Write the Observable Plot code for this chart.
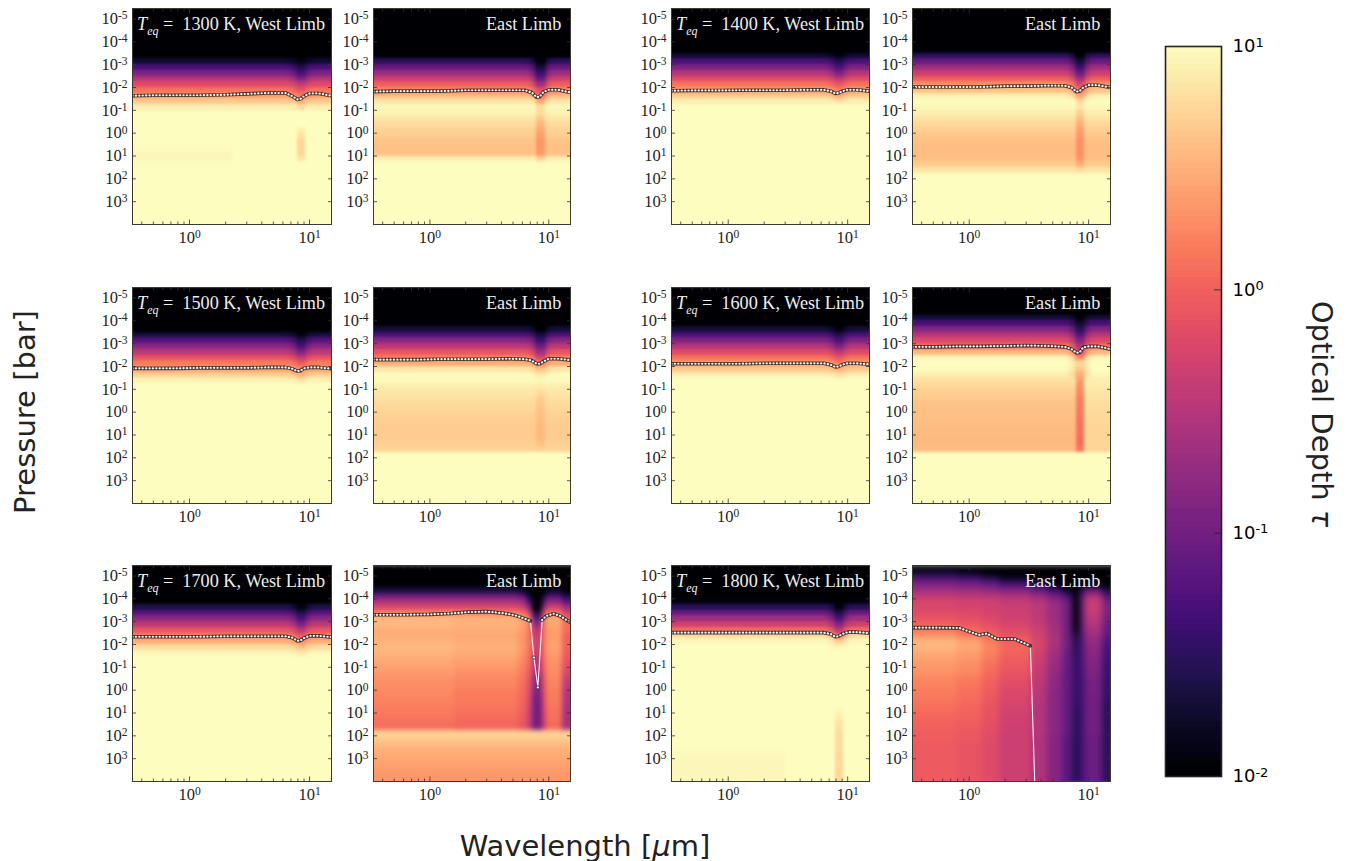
<!DOCTYPE html>
<html><head><meta charset="utf-8">
<script src="https://cdn.jsdelivr.net/npm/d3@7"></script>
<script src="https://cdn.jsdelivr.net/npm/@observablehq/plot@0.6"></script>
<style>
html,body{margin:0;padding:0;background:#fff;width:1352px;height:861px;overflow:hidden}
#root{position:relative;width:1352px;height:861px}
.p{position:absolute}
.lab{position:absolute;white-space:nowrap;font-family:"Liberation Serif",serif;color:#eee;font-size:18.2px;line-height:18px}
.lab sub{font-size:12px;font-style:italic;line-height:0}
.big{position:absolute;white-space:nowrap;font-family:"DejaVu Sans",sans-serif;font-size:29px;color:#222}
</style></head><body><div id="root"></div>
<script>
const B = .005, C = 10; // below / above the colour range
const pressureEdges = [-5.5,-5.25,-5,-4.75,-4.5,-4.25,-4,-3.75,-3.5,-3.25,-3,-2.75,-2.5,-2.25,-2,-1.75,-1.5,-1.25,-1,-.75,-.5,-.25,0,.25,.5,.75,1,1.25,1.5,1.75,2,2.25,2.5,2.75,3,3.25,3.5,3.75,4.25];
const pressureTicks = [1e-5,1e-4,1e-3,1e-2,1e-1,1,10,100,1000];
const waveTicks = [1,10];
const waveMinor = [.4,.5,.6,.7,.8,.9,2,3,4,5,6,7,8,9];
const colorTicks = [.01,.1,1,10];

const w1300Base=[B,B,B,B,B,B,B,B,.008,.018, .05,.12,.3,.65,1.3,2.3,4.5,8,C,C, C,C,C,C,C,C,C,C,C,C, C,C,C,C,C,C,C,C];
const w1300Faint=[B,B,B,B,B,B,B,B,.008,.018, .05,.12,.3,.65,1.3,2.3,4.5,8,C,C, C,C,C,C,9.5,9.2,9.2,9.5,C,C, C,C,C,C,C,C,C,C];
const w1300Band=[B,B,B,B,B,B,B,B,B,.012, .025,.05,.12,.35,.8,1.6,3.2,6,C,C, C,8,6.5,5.5,5.5,5.5,7,C,C,C, C,C,C,C,C,C,C,C];
const e1300Base=[B,B,B,B,B,B,B,B,.01,.03, .08,.2,.45,.95,1.8,3.5,7,9,8.5,7, 6,5.2,4.7,4.3,4.1,4.2,8,C,C,C, C,C,C,C,C,C,C,C];
const e1300Band=[B,B,B,B,B,B,B,B,B,.01, .02,.04,.08,.2,.7,1.3,3,6,6,4.5, 3.5,2.8,2.4,2.2,2.2,2.3,5,C,C,C, C,C,C,C,C,C,C,C];

const w1400Base=[B,B,B,B,B,B,B,.008,.018,.05, .12,.3,.65,1.3,2.3,4.5,8,C,C,C, C,C,C,C,C,C,C,C,C,C, C,C,C,C,C,C,C,C];
const w1400Band=[B,B,B,B,B,B,B,B,.012,.025, .05,.12,.35,.8,1.6,3.2,7,C,C,C, C,C,C,C,C,C,C,C,C,C, C,C,C,C,C,C,C,C];
const e1400Base=[B,B,B,B,B,B,B,.01,.03,.08, .2,.45,.95,1.9,4,8,9.5,9,8,6.8, 5.8,5,4.4,4,3.8,3.8,4,4.6,7,C, C,C,C,C,C,C,C,C];
const e1400Band=[B,B,B,B,B,B,B,B,.01,.02, .04,.09,.22,.6,1.3,3,6,7,5,3.8, 3,2.5,2.2,2,2,2,2.2,3,6,C, C,C,C,C,C,C,C,C];

const w1500Base=[B,B,B,B,B,B,B,.008,.02,.06, .15,.35,.75,1.5,2.6,5,8.5,C,C,C, C,C,C,C,C,C,C,C,C,C, C,C,C,C,C,C,C,C];
const w1500Band=[B,B,B,B,B,B,B,B,.012,.025, .05,.13,.35,.9,1.8,3.5,7,C,C,C, C,C,C,C,C,C,C,C,C,C, C,C,C,C,C,C,C,C];
const e1500Base=[B,B,B,B,B,B,.008,.02,.05,.14, .35,.8,1.6,3,7,9.5,9.5,8,7.2,6.6, 6,5.6,5.3,5,4.8,4.7,4.7,5,5.5,C, C,C,C,C,C,C,C,C];
const e1500Band=[B,B,B,B,B,B,B,.01,.02,.04, .09,.22,.55,1.4,4,8,9,7.5,6,5, 4.5,4.2,4,3.8,3.6,3.6,3.6,4,5,C, C,C,C,C,C,C,C,C];

const w1600Base=[B,B,B,B,B,B,.008,.02,.05,.12, .3,.65,1.3,2.3,4.5,8,C,C,C,C, C,C,C,C,C,C,C,C,C,C, C,C,C,C,C,C,C,C];
const w1600Band=[B,B,B,B,B,B,B,.012,.025,.05, .12,.35,.8,1.6,3.2,7,C,C,C,C, C,C,C,C,C,C,C,C,C,C, C,C,C,C,C,C,C,C];
const e1600Base=[B,B,B,B,.01,.02,.05,.14,.3,.6, 1.2,3.5,9,C,9.5,8,6.5,5.6,5,4.6, 4.3,4.1,4,3.9,3.8,3.7,3.6,3.6,3.8,C, C,C,C,C,C,C,C,C];
const e1600Band=[B,B,B,B,B,.01,.018,.03,.06,.13, .28,.65,1.8,6,4.5,3,2.4,2,1.8,1.6, 1.5,1.4,1.4,1.3,1.3,1.3,1.2,1.2,1.4,C, C,C,C,C,C,C,C,C];
const e1600Right=[B,B,B,B,.01,.02,.05,.14,.3,.6, 1.2,3.5,9,C,C,9,8,7.5,7,6.5, 6.2,6,5.8,5.6,5.5,5.5,5.4,5.4,5.5,C, C,C,C,C,C,C,C,C];

const w1700Base=[B,B,B,B,B,B,.01,.025,.06,.15, .35,.8,1.6,3,6,9,C,C,C,C, C,C,C,C,C,C,C,C,C,C, C,C,C,C,C,C,C,C];
const w1700Band=[B,B,B,B,B,B,B,.012,.025,.05, .12,.35,.85,1.9,4,8,C,C,C,C, C,C,C,C,C,C,C,C,C,C, C,C,C,C,C,C,C,C];
const e1700A=[B,B,B,B,.02,.08,.25,.6,1.6,3.5, 3.6,3.2,3,3.3,3.6,3.4,3,2.7,2.4,2.2, 2,1.9,1.8,1.7,1.6,1.5,1.4,1.3,1.2,5.5, 4.8,3.8,3.2,2.9,2.7,2.5,2.3,2.2];
const e1700B=[B,B,B,B,.02,.08,.25,.6,1.5,3.2, 3.3,3,2.8,3,3.2,3,2.7,2.4,2.1,1.9, 1.75,1.65,1.55,1.45,1.4,1.3,1.25,1.15,1.05,5.5, 4.8,3.8,3.2,2.9,2.7,2.5,2.3,2.2];
const e1700C=[B,B,B,B,.015,.06,.2,.5,1.2,2.5, 2.6,2.4,2.2,2.2,2.3,2.1,1.9,1.7,1.55,1.4, 1.3,1.2,1.15,1.1,1.05,1,.95,.9,.85,5.5, 4.8,3.8,3.2,2.9,2.7,2.5,2.3,2.2];
const e1700D=[B,B,B,B,B,.015,.05,.15,.6,1.3, 1.6,1.5,1.4,1.4,1.4,1.3,1.2,1.1,1,.9, .8,.75,.7,.65,.6,.55,.5,.5,.5,5.5, 4.8,3.8,3.2,2.9,2.7,2.5,2.3,2.2];
const e1700Band=[B,B,B,B,B,B,B,.008,.02,.06, .15,.3,.4,.5,.5,.45,.35,.3,.25,.2, .16,.14,.12,.11,.1,.1,.1,.1,.1,5.5, 4.8,3.8,3.2,2.9,2.7,2.5,2.3,2.2];
const e1700E=[B,B,B,B,.015,.05,.15,.5,1.3,2.8, 2.8,2.5,2.4,2.5,2.6,2.4,2.2,2,1.9,1.8, 1.7,1.6,1.5,1.5,1.4,1.3,1.3,1.2,1.1,5.5, 4.8,3.8,3.2,2.9,2.7,2.5,2.3,2.2];
const e1700F=[B,B,B,B,B,.02,.06,.2,.5,1, 1.2,1.2,1,1,1,.9,.8,.7,.6,.5, .4,.35,.3,.3,.28,.25,.25,.25,.25,5.5, 4.8,3.8,3.2,2.9,2.7,2.5,2.3,2.2];

const w1800Base=[B,B,B,B,B,B,.012,.03,.08,.2, .45,1.2,6,9,C,C,C,C,C,C, C,C,C,C,C,C,C,C,C,C, C,9.8,9.6,9.4,9.2,9,9,9];
const w1800Right=[B,B,B,B,B,B,.012,.03,.08,.2, .45,1.2,6,9,C,C,C,C,C,C, C,C,C,C,C,C,C,C,C,C, C,C,C,C,C,C,C,C];
const w1800Band=[B,B,B,B,B,B,B,.012,.025,.05, .13,.38,1.2,5,9,C,C,C,C,C, C,C,C,C,C,9,8,7,6.5,6, 6,6,6,5.8,5.8,5.6,5.5,5.5];

const e1800A=[B,.02,.06,.12,.22,.35,.55,.6,.65,.8, 1,1.5,2,3.5,3.5,3,2.6,2.3,2.1,1.9, 1.7,1.6,1.5,1.4,1.3,1.2,1.1,1.05,1,.95, .95,.9,.9,.9,.9,.9,.9,.9];
const e1800B=[B,.015,.05,.1,.2,.32,.5,.55,.6,.7, .85,1.1,1.5,2.6,2.8,2.5,2.2,2,1.8,1.6, 1.45,1.35,1.25,1.2,1.1,1.05,1,.95,.9,.85, .85,.8,.8,.8,.8,.8,.8,.8];
const e1800C=[B,.01,.03,.08,.17,.3,.45,.5,.55,.6, .7,.85,1.1,1.5,1.7,1.6,1.5,1.3,1.2,1.1, 1,.95,.9,.85,.8,.78,.75,.72,.7,.68, .65,.65,.65,.65,.65,.65,.65,.65];
const e1800D=[B,B,.015,.05,.13,.25,.4,.45,.45,.5, .55,.65,.8,1,1.1,1.05,.95,.9,.8,.75, .7,.65,.6,.58,.55,.52,.5,.5,.48,.46, .45,.45,.45,.45,.45,.45,.45,.45];
const e1800E=[B,B,.01,.025,.08,.18,.3,.35,.35,.35, .4,.45,.5,.55,.55,.5,.45,.42,.4,.38, .35,.34,.33,.32,.3,.3,.3,.3,.3,.3, .28,.28,.28,.28,.28,.28,.28,.28];
const e1800F=[B,B,B,.012,.04,.1,.17,.2,.2,.2, .22,.24,.26,.26,.25,.22,.2,.19,.18,.17, .16,.16,.15,.15,.15,.15,.15,.15,.15,.15, .14,.14,.14,.14,.14,.14,.14,.14];
const e1800G=[B,B,B,B,.015,.05,.09,.1,.1,.1, .1,.1,.1,.1,.1,.09,.09,.085,.08,.08, .08,.08,.08,.08,.08,.08,.08,.08,.08,.08, .07,.07,.07,.07,.07,.07,.07,.07];
const e1800H=[B,B,B,B,.008,.012,.012,.012,.012,.012, .012,.015,.02,.025,.03,.03,.032,.035,.035,.035, .035,.035,.035,.035,.035,.03,.03,.03,.03,.03, .028,.028,.028,.028,.028,.028,.028,.028];
const e1800I=[B,B,B,.008,.03,.08,.1,.1,.1,.1, .09,.08,.07,.07,.06,.06,.06,.055,.055,.055, .05,.05,.05,.05,.05,.05,.05,.05,.05,.05, .05,.05,.05,.05,.05,.05,.05,.05];
const e1800J=[B,B,B,.008,.08,.25,.4,.45,.4,.35, .3,.25,.2,.18,.16,.15,.14,.13,.12,.12, .11,.11,.11,.1,.1,.1,.1,.1,.1,.1, .09,.09,.09,.09,.09,.09,.09,.09];
const e1800K=[B,B,B,B,.02,.06,.1,.12,.12,.1, .09,.08,.07,.06,.05,.05,.045,.04,.04,.04, .035,.035,.035,.035,.03,.03,.03,.03,.03,.03, .03,.03,.03,.03,.03,.03,.03,.03];

const contourWave=[.335,.5,.8,1.2,2,3,4.5,6.3,7.2,7.9,8.4,9,10,12,15.24];
const c1300w=[-1.64,-1.66,-1.66,-1.66,-1.68,-1.72,-1.76,-1.76,-1.62,-1.48,-1.5,-1.62,-1.74,-1.74,-1.64];
const c1300e=[-1.82,-1.84,-1.84,-1.84,-1.88,-1.88,-1.88,-1.88,-1.78,-1.58,-1.6,-1.8,-1.9,-1.9,-1.78];
const c1400w=[-1.86,-1.87,-1.87,-1.88,-1.88,-1.88,-1.9,-1.9,-1.84,-1.74,-1.76,-1.84,-1.9,-1.9,-1.84];
const c1400e=[-2.02,-2.02,-2.02,-2.02,-2.06,-2.06,-2.08,-2.08,-2,-1.82,-1.84,-2,-2.1,-2.1,-2];
const c1500w=[-1.92,-1.92,-1.92,-1.94,-1.94,-1.94,-1.96,-1.96,-1.9,-1.8,-1.82,-1.92,-1.96,-1.96,-1.9];
const c1500e=[-2.3,-2.3,-2.3,-2.32,-2.32,-2.32,-2.34,-2.32,-2.26,-2.12,-2.12,-2.22,-2.34,-2.34,-2.28];
const c1600w=[-2.12,-2.12,-2.12,-2.12,-2.14,-2.14,-2.14,-2.14,-2.08,-1.98,-2,-2.08,-2.14,-2.14,-2.1];
const c1600e=[-2.86,-2.86,-2.88,-2.88,-2.9,-2.92,-2.9,-2.86,-2.76,-2.6,-2.62,-2.84,-2.88,-2.88,-2.76];
const c1700w=[-2.34,-2.34,-2.34,-2.34,-2.36,-2.36,-2.36,-2.36,-2.3,-2.16,-2.18,-2.28,-2.38,-2.38,-2.32];
const c1800w=[-2.52,-2.52,-2.52,-2.52,-2.52,-2.52,-2.52,-2.52,-2.46,-2.34,-2.36,-2.46,-2.54,-2.54,-2.5];
const c1700eWave=[.335,.6,1,1.5,2.1,3,4,5,5.8,7,7.5,8.1,8.8,9.5,11,12.5,15.24];
const c1700e=[-3.3,-3.3,-3.32,-3.36,-3.42,-3.44,-3.38,-3.3,-3.2,-3.03,-1.43,-.12,-3.07,-3.25,-3.35,-3.25,-2.96];
const c1700eGroup=[0,0,0,0,0,0,0,0,0,0,null,null,1,1,1,1,1];
const c1800eWave=[.335,.82,1.2,1.41,1.7,2.4,3.25,3.55];
const c1800e=[-2.74,-2.73,-2.42,-2.48,-2.24,-2.24,-1.94,4.3];
const c1800eGroup=[0,0,0,0,0,0,0,null];

const xDomain=[.335,15.24], yDomain=[1e4,10**-5.46];
const colsX=[132,373,671,912], rowsY=[8,287,565];
const band3=(a,b,c)=>[[.3,7.9,a],[7.9,9.3,b],[9.3,17,c]];
const panels=[
 {t:1300,east:0,col:0,row:0,cols:[[.3,2.3,w1300Faint],[2.3,7.9,w1300Base],[7.9,9.3,w1300Band],[9.3,17,w1300Base]],wave:contourWave,c:c1300w},
 {t:1300,east:1,col:1,row:0,cols:band3(e1300Base,e1300Band,e1300Base),wave:contourWave,c:c1300e},
 {t:1400,east:0,col:2,row:0,cols:band3(w1400Base,w1400Band,w1400Base),wave:contourWave,c:c1400w},
 {t:1400,east:1,col:3,row:0,cols:band3(e1400Base,e1400Band,e1400Base),wave:contourWave,c:c1400e},
 {t:1500,east:0,col:0,row:1,cols:band3(w1500Base,w1500Band,w1500Base),wave:contourWave,c:c1500w},
 {t:1500,east:1,col:1,row:1,cols:band3(e1500Base,e1500Band,e1500Base),wave:contourWave,c:c1500e},
 {t:1600,east:0,col:2,row:1,cols:band3(w1600Base,w1600Band,w1600Base),wave:contourWave,c:c1600w},
 {t:1600,east:1,col:3,row:1,cols:band3(e1600Base,e1600Band,e1600Right),wave:contourWave,c:c1600e},
 {t:1700,east:0,col:0,row:2,cols:band3(w1700Base,w1700Band,w1700Base),wave:contourWave,c:c1700w},
 {t:1700,east:1,col:1,row:2,blur:2.4,cols:[[.3,1.6,e1700A],[1.6,5.6,e1700B],[5.6,6.5,e1700C],[6.5,7.3,e1700D],[7.3,8.8,e1700Band],[8.8,9.6,e1700D],[9.6,13,e1700E],[13,17,e1700F]],wave:c1700eWave,c:c1700e,g:c1700eGroup},
 {t:1800,east:0,col:2,row:2,cols:[[.3,3,w1800Base],[3,7.9,w1800Right],[7.9,9.3,w1800Band],[9.3,17,w1800Right]],wave:contourWave,c:c1800w},
 {t:1800,east:1,col:3,row:2,blur:3,cols:[[.3,.8,e1800A],[.8,1.3,e1800B],[1.3,1.8,e1800C],[1.8,3.3,e1800D],[3.3,4.5,e1800E],[4.5,6,e1800F],[6,7.3,e1800G],[7.3,8.5,e1800H],[8.5,9.5,e1800I],[9.5,13,e1800J],[13,17,e1800K]],wave:c1800eWave,c:c1800e,g:c1800eGroup}
];
const colorOpt={type:"log",scheme:"magma",domain:[.01,10],clamp:true};
const expFmt=d=>"10^"+Math.round(Math.log10(d));
function superscripts(svg,size){
  d3.select(svg).selectAll("text").each(function(){
    const s=this.textContent; const m=s.match(/^10\^(-?\d+)$/); if(!m) return;
    const sel=d3.select(this); const tsp=sel.select("tspan");
    (tsp.empty()?sel:tsp).text("10").append("tspan").attr("dy","-.42em").attr("font-size",size).text(m[1]);
  });
}
const root=document.getElementById("root");
const M={l:45,r:6,t:4,b:26}, W=[199,197,198,198], H=216;
for(const p of panels){
  const cells=(cols)=>cols.flatMap(([x1,x2,arr])=>arr.map((tau,i)=>({x1,x2,y1:10**pressureEdges[i],y2:10**pressureEdges[i+1],tau})));
  const rows=cells(p.cols);
  const bandCol=p.cols.find(c=>c[0]===7.9);
  const topBand=bandCol?cells([bandCol]).filter(d=>d.y2<=10**-1.5):[];
  const shoulder=topBand.map(d=>({...d,x1:7.1,x2:10.2}));
  const pts=p.wave.map((w,i)=>({w,y:10**p.c[i],g:p.g?p.g[i]:0}));
  const tickStyle={stroke:"#333",strokeWidth:.8};
  const blur=`blur(${p.blur||1.7}px)`;
  const svg=Plot.plot({
    width:W[p.col]+M.l+M.r,height:H+M.t+M.b,marginLeft:M.l,marginRight:M.r,marginTop:M.t,marginBottom:M.b,
    style:{background:"transparent",overflow:"visible",fontFamily:"'Liberation Serif',serif"},
    x:{type:"log",domain:xDomain,axis:null},y:{type:"log",domain:yDomain,axis:null},color:colorOpt,
    marks:[
      Plot.rect(rows,{x1:"x1",x2:"x2",y1:"y1",y2:"y2",fill:"tau",clip:true,imageFilter:blur,shapeRendering:"crispEdges"}),
      Plot.rect(shoulder,{x1:"x1",x2:"x2",y1:"y1",y2:"y2",fill:"tau",clip:true,fillOpacity:.4,imageFilter:"blur(2.5px)",shapeRendering:"crispEdges"}),
      Plot.rect(topBand,{x1:"x1",x2:"x2",y1:"y1",y2:"y2",fill:"tau",clip:true,fillOpacity:.6,imageFilter:"blur(2px)",shapeRendering:"crispEdges"}),
      Plot.line(pts,{x:"w",y:"y",stroke:"#fff",strokeWidth:1.1,clip:true,strokeOpacity:.9,imageFilter:"blur(.4px)"}),
      Plot.line(pts.filter(d=>d.g!=null),{x:"w",y:"y",z:"g",stroke:"#111",strokeWidth:3.6,clip:true,strokeOpacity:.75,imageFilter:"blur(.4px)"}),
      Plot.line(pts.filter(d=>d.g!=null),{x:"w",y:"y",z:"g",stroke:"#fff",strokeWidth:2.2,strokeOpacity:.95,strokeDasharray:"0.1 3.3",strokeLinecap:"round",clip:true,imageFilter:"blur(.4px)"}),
      Plot.dot(pts.filter(d=>d.g==null&&d.y<1e3),{x:"w",y:"y",r:1.6,fill:"#fff",stroke:"#222",strokeWidth:.8}),
      Plot.frame({stroke:"#3a3a30",strokeWidth:1}),
      Plot.axisX(waveTicks,{anchor:"bottom",tickSize:-4.5,tickPadding:11,tickFormat:expFmt,fontSize:16.5,...tickStyle,color:"#222"}),
      Plot.axisX(waveMinor,{anchor:"bottom",tickSize:-2.5,text:null,...tickStyle}),
      Plot.axisX(waveTicks,{anchor:"top",tickSize:-4.5,text:null,...tickStyle}),
      Plot.axisX(waveMinor,{anchor:"top",tickSize:-2.5,text:null,...tickStyle}),
      Plot.axisY(pressureTicks,{anchor:"left",tickSize:-4,tickPadding:9,tickFormat:expFmt,fontSize:16.5,...tickStyle,color:"#222"}),
      Plot.axisY(pressureTicks,{anchor:"right",tickSize:-4,text:null,...tickStyle})
    ]});
  superscripts(svg,"11.5px");
  const holder=document.createElement("div");holder.className="p";
  holder.style.left=(colsX[p.col]-M.l)+"px";holder.style.top=(rowsY[p.row]-M.t)+"px";
  holder.style.width=(W[p.col]+M.l+M.r)+"px";
  holder.appendChild(svg);root.appendChild(holder);
  const lab=document.createElement("div");lab.className="lab";
  lab.style.top=(rowsY[p.row]+7)+"px";
  if(p.east){lab.textContent="East Limb";lab.style.left=(colsX[p.col]+113)+"px";}
  else{lab.innerHTML=`<i>T</i><sub>eq</sub> =&nbsp; ${p.t} K, West Limb`;lab.style.left=(colsX[p.col]+5)+"px";}
  root.appendChild(lab);
}
// colour bar
const barEdges=d3.range(0,121).map(i=>10**(-2+i*3/120));
const barCells=barEdges.slice(0,-1).map((v,i)=>({v,v2:barEdges[i+1]}));
const bar=Plot.plot({
  width:125,height:738,marginLeft:5,marginRight:64,marginTop:4,marginBottom:4,
  style:{background:"transparent",overflow:"visible",fontFamily:"'DejaVu Sans',sans-serif"},
  x:{domain:[0,1],axis:null},y:{type:"log",domain:[.01,10],axis:null},color:colorOpt,
  marks:[
    Plot.rect(barCells,{x1:0,x2:1,y1:"v",y2:"v2",fill:d=>Math.sqrt(d.v*d.v2),shapeRendering:"crispEdges"}),
    Plot.axisY(colorTicks,{anchor:"right",tickSize:-8,tickPadding:19,tickFormat:expFmt,fontSize:18,stroke:"#222",strokeWidth:.8}),
    Plot.frame({stroke:"#222",strokeWidth:1.6})
  ]});
superscripts(bar,"13px");
const bh=document.createElement("div");bh.className="p";bh.style.left="1160px";bh.style.top="42px";bh.style.width="125px";
bh.appendChild(bar);root.appendChild(bh);
function big(text,x,y,rot){
  const d=document.createElement("div");d.className="big";d.innerHTML=text;
  d.style.left=x+"px";d.style.top=y+"px";d.style.transform=`translate(-50%,-50%) rotate(${rot}deg)`;root.appendChild(d);
}
big("Pressure [bar]",25,412,-90);
big("Wavelength [<i>μ</i>m]",585,846,0);
big("Optical Depth <i>τ</i>",1322,414,90);
</script></body></html>
